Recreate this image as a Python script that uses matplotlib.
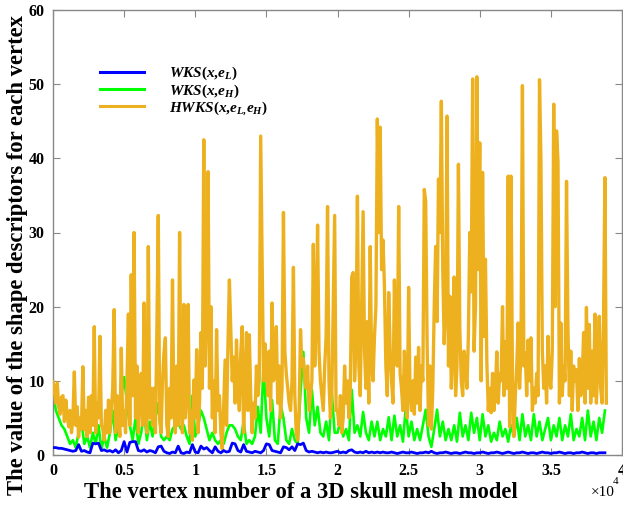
import matplotlib
matplotlib.use("Agg")
import matplotlib.pyplot as plt
import numpy as np
from matplotlib.ticker import FuncFormatter

plt.rcParams['font.family'] = ['Liberation Serif', 'DejaVu Serif']
plt.rcParams['mathtext.fontset'] = 'custom'
plt.rcParams['mathtext.it'] = 'Liberation Serif:italic:bold'
plt.rcParams['mathtext.rm'] = 'Liberation Serif:bold'
plt.rcParams['mathtext.bf'] = 'Liberation Serif:bold'

# HWKS(x,eL,eH), one value every 100 vertices (rows of 0.1e4)
hwks = [
    9.9, 8.5, 7.0, 9.7, 6.5, 5.5, 7.8, 8.0, 4.5, 7.4,
    5.5, 3.8, 6.0, 3.0, 5.0, 11.2, 4.0, 6.5, 2.4, 5.0,
    3.5, 11.9, 3.4, 6.0, 2.5, 7.8, 3.0, 8.0, 4.0, 17.3,
    3.0, 7.0, 5.0, 16.0, 4.0, 3.5, 2.0, 6.0, 3.0, 7.4,
    3.0, 6.0, 9.0, 19.6, 3.0, 8.0, 5.0, 2.5, 14.4, 4.0,
    6.0, 3.0, 10.0, 19.0, 4.0, 24.3, 8.0, 30.0, 5.0, 12.0,
    3.0, 8.0, 11.0, 4.0, 20.5, 6.0, 3.0, 28.1, 5.0, 9.0,
    4.0, 9.0, 3.0, 16.5, 32.3, 5.0, 3.0, 10.0, 13.8, 15.8,
    4.0, 2.5, 9.0, 5.0, 23.6, 6.0, 3.0, 12.0, 4.0, 30.0,
    7.0, 3.0, 20.3, 5.0, 8.0, 20.3, 3.0, 6.0, 2.0, 10.1,
    5.0, 14.2, 3.0, 7.0, 16.5, 9.0, 42.5, 12.0, 20.0, 38.2,
    9.0, 20.0, 5.0, 10.0, 3.0, 16.9, 6.0, 8.0, 3.0, 0.8,
    7.0, 12.8, 4.0, 15.0, 23.6, 17.0, 10.0, 13.2, 7.0, 15.5,
    9.0, 6.0, 13.8, 17.3, 3.0, 9.0, 16.5, 6.0, 16.2, 8.0,
    3.0, 7.0, 5.0, 12.0, 8.0, 10.0, 43.0, 27.0, 10.0, 15.0,
    12.0, 8.0, 14.0, 6.0, 20.5, 10.0, 11.0, 17.3, 7.0, 12.0,
    5.0, 9.0, 32.7, 14.0, 11.0, 9.0, 7.0, 6.0, 10.0, 25.3,
    8.0, 3.0, 2.0, 6.0, 16.9, 12.0, 13.0, 10.0, 9.0, 12.0,
    6.0, 8.0, 10.0, 28.4, 12.0, 18.0, 31.0, 14.0, 10.0, 8.0,
    6.0, 12.0, 16.0, 33.5, 10.0, 5.0, 8.0, 20.0, 32.3, 6.0,
    6.0, 4.0, 8.0, 3.0, 5.0, 12.0, 7.0, 10.0, 5.0, 9.0,
    24.0, 24.6, 10.0, 15.0, 34.9, 12.0, 8.0, 20.0, 32.8, 14.0,
    9.0, 18.0, 7.0, 28.1, 12.0, 10.0, 16.0, 20.0, 45.3, 30.0,
    44.2, 25.0, 29.0, 22.7, 12.0, 8.0, 21.9, 14.0, 10.0, 7.0,
    23.6, 15.0, 12.0, 33.5, 11.0, 9.0, 6.0, 14.0, 10.0, 5.0,
    22.6, 8.0, 6.0, 10.0, 5.5, 13.2, 7.0, 14.5, 6.0, 12.0,
    10.0, 35.8, 34.2, 15.0, 4.0, 12.0, 3.5, 9.0, 20.0, 28.1,
    18.0, 37.2, 30.0, 47.7, 25.0, 15.0, 20.0, 45.7, 12.0, 21.4,
    9.0, 14.0, 24.0, 8.0, 12.0, 39.2, 17.0, 10.0, 8.0, 14.0,
    12.0, 9.0, 16.0, 30.0, 22.0, 50.7, 14.0, 20.0, 51.0, 25.0,
    42.1, 10.0, 38.1, 16.0, 26.4, 12.4, 6.0, 9.0, 5.7, 11.0,
    6.0, 9.0, 13.9, 7.0, 11.0, 10.0, 20.0, 8.0, 15.3, 9.0,
    37.6, 3.8, 37.6, 10.1, 2.5, 8.0, 12.0, 17.8, 9.0, 14.0,
    49.8, 12.0, 13.8, 8.0, 15.5, 10.0, 15.8, 6.0, 9.0, 7.0,
    11.0, 8.0, 50.6, 40.1, 14.0, 9.0, 12.0, 7.0, 16.0, 10.0,
    9.0, 14.0, 47.3, 20.0, 43.7, 39.6, 7.0, 17.8, 8.0, 12.0,
    10.0, 36.9, 17.0, 8.0, 14.0, 6.0, 12.0, 10.0, 11.5, 6.0,
    13.0, 8.0, 10.0, 16.5, 7.0, 19.9, 9.0, 17.6, 7.0, 14.0,
    8.0, 19.0, 7.0, 12.0, 18.7, 9.0, 7.0, 18.0, 37.4, 7.0,
]

# WKS(x,eH), one value every 200 vertices
wks_h = [
    8.8, 6.0, 5.0, 4.0, 3.5, 2.5, 1.5, 2.0, 1.0, 3.0,
    4.5, 1.5, 2.5, 1.0, 3.0, 1.5, 4.0, 0.8, 2.5, 1.0,
    3.0, 6.0, 2.0, 4.0, 8.0, 10.5, 7.0, 4.0, 2.0, 5.0,
    1.5, 3.0, 6.0, 2.0, 4.5, 2.5, 5.0, 7.0, 2.5, 2.0,
    2.5, 2.0, 3.5, 4.0, 4.3, 3.5, 4.0, 2.5, 1.5, 8.0,
    2.5, 4.0, 6.0, 5.0, 3.5, 2.0, 3.0, 2.0, 1.5, 2.0,
    1.5, 3.0, 4.0, 4.0, 3.5, 2.5, 2.0, 4.5, 1.5, 2.0,
    1.5, 2.5, 6.5, 3.0, 12.0, 5.0, 2.5, 7.4, 2.0, 1.5,
    6.8, 5.0, 2.0, 1.5, 3.5, 2.0, 1.5, 8.5, 13.9, 5.0,
    3.0, 8.8, 4.0, 6.5, 3.0, 2.5, 4.5, 2.0, 8.4, 3.0,
    3.0, 4.5, 2.5, 3.5, 2.0, 8.8, 3.0, 4.0, 2.5, 5.8,
    3.0, 2.0, 4.5, 2.5, 4.5, 2.0, 3.5, 2.5, 5.1, 2.0,
    5.3, 2.5, 4.0, 1.8, 6.4, 2.5, 4.5, 2.0, 3.5, 2.0,
    4.0, 6.1, 2.5, 1.1, 3.5, 6.1, 2.5, 4.5, 2.0, 3.5,
    2.0, 4.0, 1.8, 5.7, 2.5, 4.0, 2.0, 5.7, 3.0, 5.0,
    2.0, 5.5, 2.5, 4.0, 1.8, 3.0, 2.0, 4.5, 2.5, 3.5,
    1.8, 4.0, 2.5, 5.0, 2.0, 5.5, 2.5, 4.0, 2.0, 5.5,
    2.5, 4.5, 2.0, 3.5, 5.0, 2.0, 4.0, 2.5, 5.0, 2.0,
    4.0, 2.5, 5.5, 2.0, 3.5, 2.5, 5.0, 2.0, 6.0, 2.5,
    4.5, 2.0, 5.0, 3.0, 6.0,
]

# WKS(x,eL), one value every 200 vertices
wks_l = [
    1.0, 1.0, 0.9, 0.9, 0.8, 0.7, 0.6, 0.5, 0.6, 1.4,
    0.5, 0.6, 0.4, 0.3, 1.6, 1.5, 1.6, 0.6, 0.7, 0.5,
    0.6, 0.4, 0.7, 0.3, 0.6, 1.8, 0.4, 1.7, 1.8, 1.8,
    0.6, 0.5, 0.7, 0.4, 0.6, 0.5, 0.3, 1.1, 1.2, 0.5,
    0.3, 0.2, 0.4, 0.3, 1.2, 0.3, 0.2, 0.4, 0.3, 1.4,
    0.4, 0.3, 1.2, 0.8, 1.0, 0.6, 0.3, 1.1, 0.5, 0.3,
    0.6, 0.4, 0.5, 1.6, 1.5, 0.6, 0.4, 1.4, 0.5, 0.4,
    0.3, 0.5, 0.4, 0.3, 0.6, 1.5, 1.4, 0.6, 0.5, 0.4,
    0.3, 1.1, 1.0, 0.7, 1.1, 0.6, 1.5, 1.4, 1.6, 0.6,
    0.4, 0.5, 0.4, 0.3, 0.4, 0.3, 0.4, 0.3, 0.3, 0.4,
    0.5, 0.3, 0.4, 0.3, 0.6, 0.7, 0.4, 0.3, 0.4, 0.3,
    0.5, 0.3, 0.4, 0.3, 0.4, 0.3, 0.4, 0.3, 0.3, 0.4,
    0.3, 0.2, 0.3, 0.4, 0.3, 0.3, 0.4, 0.3, 0.2, 0.3,
    0.3, 0.4, 0.3, 0.5, 0.3, 0.2, 0.3, 0.3, 0.4, 0.3,
    0.2, 0.3, 0.3, 0.2, 0.3, 0.4, 0.3, 0.3, 0.2, 0.3,
    0.3, 0.4, 0.3, 0.2, 0.3, 0.3, 0.4, 0.3, 0.2, 0.3,
    0.4, 0.3, 0.2, 0.3, 0.3, 0.4, 0.3, 0.2, 0.3, 0.3,
    0.2, 0.3, 0.4, 0.3, 0.3, 0.2, 0.3, 0.3, 0.4, 0.3,
    0.2, 0.3, 0.3, 0.2, 0.3, 0.3, 0.4, 0.3, 0.2, 0.3,
    0.3, 0.2, 0.3, 0.3, 0.3,
]

labels = [r'$WKS(x{,}e_L)$', r'$WKS(x{,}e_H)$', r'$HWKS(x{,}e_{L{,}}e_H)$']
colors = ['#0000ff', '#00ff00', '#edb120']

x_h = np.arange(len(hwks)) * 100
x_g = np.arange(len(wks_h)) * 200
x_b = np.arange(len(wks_l)) * 200

fig = plt.figure(figsize=(6.23, 5.09), dpi=100)
ax = fig.add_axes([53 / 623, 1 - 455 / 509, 569 / 623, 445 / 509])

lb, = ax.plot(x_b, wks_l, color=colors[0], lw=2.0, zorder=4, label=labels[0])
lg, = ax.plot(x_g, wks_h, color=colors[1], lw=1.9, zorder=2, label=labels[1])
lo, = ax.plot(x_h, hwks, color=colors[2], lw=2.4, zorder=3, label=labels[2])

ax.set_xlim(0, 40000)
ax.set_ylim(0, 60)
ax.set_xticks(np.arange(0, 40001, 5000))
ax.set_yticks(np.arange(0, 61, 10))
ax.xaxis.set_major_formatter(FuncFormatter(lambda v, p: '%g' % (v / 1e4)))

for s in ax.spines.values():
    s.set_color('#888888')
    s.set_linewidth(1.0)
ax.tick_params(direction='in', top=True, right=True, length=5, width=0.8,
               color='#888888', labelsize=11.5, pad=6)
for t in ax.get_xticklabels() + ax.get_yticklabels():
    t.set_fontweight('bold')

fig.text(301 / 623, 1 - 493 / 509, 'The vertex number of a 3D skull mesh model',
         ha='center', va='center', fontsize=16.3, fontweight='bold')
fig.text(18 / 623, 1 - 255 / 509, 'The value of the shape descriptors for each vertex',
         ha='center', va='center', rotation=90, fontsize=16.3, fontweight='bold')
fig.text(591 / 623, 1 - 492 / 509, '\u00d710', ha='left', va='center', fontsize=11)
fig.text(613 / 623, 1 - 482 / 509, '4', ha='left', va='center', fontsize=8)

leg = ax.legend(handles=[lb, lg, lo], loc='upper left',
                bbox_to_anchor=((100 - 53) / 569, (455 - 65) / 445),
                frameon=False, fontsize=11, handlelength=2.9,
                handletextpad=1.6, labelspacing=0.0, borderpad=0,
                borderaxespad=0)
for line in leg.get_lines():
    line.set_linewidth(2.2)

fig.savefig('out.png', dpi=100)
